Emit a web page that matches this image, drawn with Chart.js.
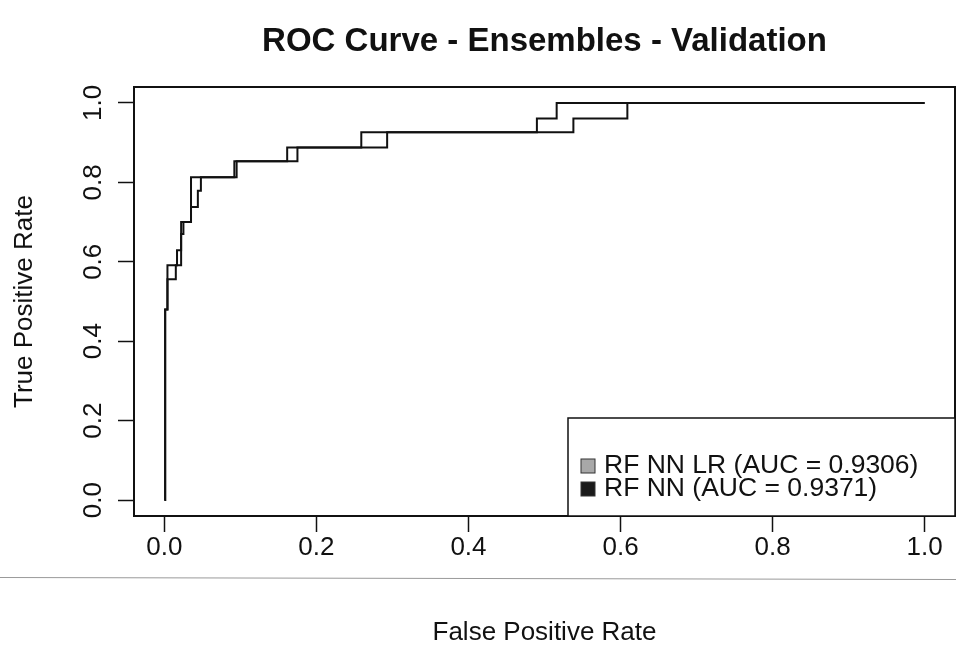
<!DOCTYPE html>
<html>
<head>
<meta charset="utf-8">
<script src="https://cdn.jsdelivr.net/npm/chart.js@4.4.1/dist/chart.umd.min.js"></script>
<style>
  html, body { margin: 0; padding: 0; background: #fff; }
</style>
</head>
<body>
<canvas id="rocChart" width="956" height="652"></canvas>
<script>
// ROC points: false positive rate / true positive rate
const fprNNLR = [0, 0.001, 0.004, 0.015, 0.022, 0.025, 0.035, 0.044, 0.048, 0.095, 0.175, 0.293, 0.538, 0.609, 1.0];
const tprNNLR = [0, 0.48, 0.556, 0.591, 0.67, 0.70, 0.738, 0.779, 0.813, 0.853, 0.888, 0.926, 0.961, 1.0, 1.0];
const fprNN = [0, 0.001, 0.004, 0.0166, 0.022, 0.035, 0.092, 0.1615, 0.259, 0.49, 0.516, 1.0];
const tprNN = [0, 0.48, 0.591, 0.629, 0.70, 0.813, 0.853, 0.888, 0.926, 0.961, 1.0, 1.0];
const seriesLabels = ['RF NN LR (AUC = 0.9306)', 'RF NN (AUC = 0.9371)'];
const xTicks = [0, 0.2, 0.4, 0.6, 0.8, 1.0];
const yTicks = [0, 0.2, 0.4, 0.6, 0.8, 1.0];

const FONT = "'Liberation Sans', Arial, Helvetica, sans-serif";
const INK = '#111';

function toPoints(xs, ys) {
    return xs.map((x, i) => ({ x: x, y: ys[i] }));
}

// box, title, rotated y labels, legend (R base graphics look)
const rStyle = {
    id: 'rStyle',
    afterDraw(chart) {
        const { ctx, chartArea: a, scales } = chart;
        ctx.save();

        // scan line under the tick labels
        ctx.strokeStyle = '#999';
        ctx.lineWidth = 1;
        ctx.beginPath();
        ctx.moveTo(0, 577.5);
        ctx.lineTo(chart.width, 579.5);
        ctx.stroke();

        // plot box
        ctx.strokeStyle = INK;
        ctx.lineWidth = 2;
        ctx.strokeRect(a.left, a.top, a.right - a.left, a.bottom - a.top);

        // title
        ctx.fillStyle = INK;
        ctx.font = 'bold 33px ' + FONT;
        ctx.textAlign = 'center';
        ctx.textBaseline = 'middle';
        ctx.fillText('ROC Curve - Ensembles - Validation', (a.left + a.right) / 2, 42);

        // y tick labels, parallel to the axis
        ctx.font = '26px ' + FONT;
        yTicks.forEach(v => {
            const py = scales.y.getPixelForValue(v);
            ctx.save();
            ctx.translate(94, py);
            ctx.rotate(-Math.PI / 2);
            ctx.fillText(v.toFixed(1), 0, 0);
            ctx.restore();
        });

        // legend in the bottom right corner
        const legW = 387, legH = 98;
        const lx = a.right - legW, ly = a.bottom - legH;
        ctx.fillStyle = '#fff';
        ctx.fillRect(lx, ly, legW, legH);
        ctx.strokeStyle = INK;
        ctx.lineWidth = 1.5;
        ctx.strokeRect(lx, ly, legW, legH);
        ctx.textAlign = 'left';
        ctx.font = '26.5px ' + FONT;
        chart.data.datasets.forEach((ds, i) => {
            const cy = ly + 48 + i * 23;
            ctx.fillStyle = ds.backgroundColor;
            ctx.fillRect(lx + 13, cy - 7, 14, 14);
            ctx.strokeStyle = '#333';
            ctx.lineWidth = 1;
            ctx.strokeRect(lx + 13, cy - 7, 14, 14);
            ctx.fillStyle = INK;
            ctx.fillText(ds.label, lx + 36, cy);
        });

        ctx.restore();
    }
};

const rocChart = new Chart(document.getElementById('rocChart'), {
    type: 'line',
    data: {
        datasets: [
            { label: seriesLabels[0], data: toPoints(fprNNLR, tprNNLR), borderColor: INK, backgroundColor: '#a8a8a8' },
            { label: seriesLabels[1], data: toPoints(fprNN, tprNN), borderColor: INK, backgroundColor: '#1a1a1a' }
        ]
    },
    options: {
        responsive: false,
        animation: false,
        devicePixelRatio: 1,
        layout: { padding: { top: 87, right: 1, left: 0, bottom: 0 } },
        elements: {
            line: { borderWidth: 2, stepped: true, tension: 0, fill: false },
            point: { radius: 0 }
        },
        plugins: {
            legend: { display: false },
            tooltip: { enabled: false },
            title: { display: false }
        },
        scales: {
            x: {
                type: 'linear',
                min: -0.04,
                max: 1.04,
                afterBuildTicks: (scale) => { scale.ticks = xTicks.map(v => ({ value: v })); },
                afterFit: (scale) => {
                    scale.height = 136;
                    scale.paddingLeft = 0;
                    scale.paddingRight = 0;
                },
                grid: { drawOnChartArea: false, tickLength: 16, tickColor: INK, tickWidth: 1.5 },
                border: { display: false },
                ticks: {
                    color: INK,
                    padding: 0,
                    font: { family: FONT, size: 26 },
                    maxRotation: 0,
                    callback: (v) => Number(v).toFixed(1)
                },
                title: {
                    display: true,
                    text: 'False Positive Rate',
                    color: INK,
                    font: { family: FONT, size: 26 },
                    padding: { top: 0, bottom: 4 }
                }
            },
            y: {
                type: 'linear',
                min: -0.04,
                max: 1.04,
                afterBuildTicks: (scale) => { scale.ticks = yTicks.map(v => ({ value: v })); },
                afterFit: (scale) => { scale.width = 134; },
                grid: { drawOnChartArea: false, tickLength: 16, tickColor: INK, tickWidth: 1.5 },
                border: { display: false },
                ticks: { display: false },
                title: {
                    display: true,
                    text: 'True Positive Rate',
                    color: INK,
                    font: { family: FONT, size: 26 },
                    padding: { top: 9, bottom: 0 }
                }
            }
        }
    },
    plugins: [rStyle]
});
</script>
</body>
</html>
